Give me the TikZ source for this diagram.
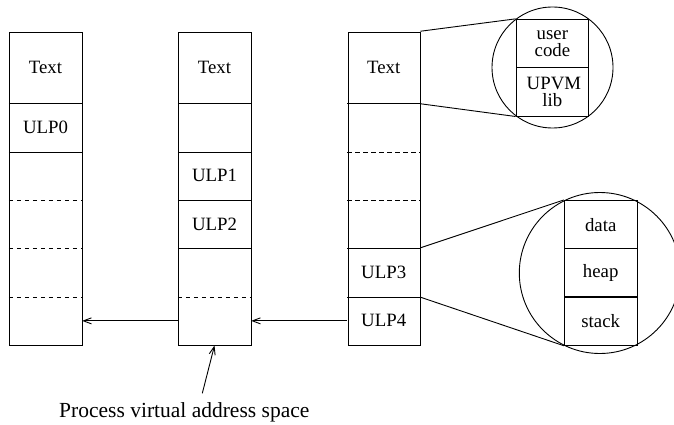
\documentclass[tikz,border=0pt]{standalone}
\usepackage{fontspec}
\setmainfont{Liberation Serif}
\usetikzlibrary{arrows.meta}
\begin{document}
\begin{tikzpicture}[x=1pt,y=-1pt,
  line width=0.9pt,
  colbox/.style={draw, rectangle, minimum width=72.4pt, minimum height=313.3pt, inner sep=0pt, anchor=north west},
  cell/.style={rectangle, minimum width=72.4pt, minimum height=48.4pt, inner sep=0pt, font=\fontsize{18.8}{17.3}\selectfont},
  zbox/.style={draw, rectangle, minimum width=72.7pt, minimum height=48.4pt, inner sep=0pt, align=center, font=\fontsize{18.8}{17.3}\selectfont},
  zoomc/.style={draw, circle, inner sep=0pt},
  sep/.style={},
  dsep/.style={dash pattern=on 4.5pt off 3.5pt},
  arr/.style={-{Straight Barb[length=8pt,width=6pt]}},
  captext/.style={font=\fontsize{21.5}{24}\selectfont, inner sep=0pt}]
\clip (0,0) rectangle (674,425);
\useasboundingbox (0,0) rectangle (674,425);

% columns
\node[colbox] (col1) at (9.3,31.7) {};
\node[colbox] (col2) at (178.3,31.7) {};
\node[colbox] (col3) at (347.5,31.7) {};

% column 1 cells
\node[cell, minimum height=71.6pt] (c1-a) at (45.5,67.5) {Text};
\node[cell] (c1-b) at (45.5,127.5) {ULP0};
\node[cell] (c1-c) at (45.5,175.85) {};
\node[cell] (c1-d) at (45.5,224.15) {};
\node[cell] (c1-e) at (45.5,272.5) {};
\node[cell] (c1-f) at (45.5,320.85) {};
% column 2 cells
\node[cell, minimum height=71.6pt] (c2-a) at (214.5,67.5) {Text};
\node[cell] (c2-b) at (214.5,127.5) {};
\node[cell] (c2-c) at (214.5,175.85) {ULP1};
\node[cell] (c2-d) at (214.5,224.15) {ULP2};
\node[cell] (c2-e) at (214.5,272.5) {};
\node[cell] (c2-f) at (214.5,320.85) {};
% column 3 cells
\node[cell, minimum height=71.6pt] (c3-a) at (383.7,67.5) {Text};
\node[cell] (c3-b) at (383.7,127.5) {};
\node[cell] (c3-c) at (383.7,175.85) {};
\node[cell] (c3-d) at (383.7,224.15) {};
\node[cell] (c3-e) at (383.7,272.5) {ULP3};
\node[cell] (c3-f) at (383.7,320.85) {ULP4};

% dividers column 1
\draw[sep] (c1-a.south west) -- (c1-a.south east);
\draw[sep] (c1-b.south west) -- (c1-b.south east);
\draw[dsep] (c1-c.south west) -- (c1-c.south east);
\draw[dsep] (c1-d.south west) -- (c1-d.south east);
\draw[dsep] (c1-e.south west) -- (c1-e.south east);
% dividers column 2
\draw[sep] (c2-a.south west) -- (c2-a.south east);
\draw[sep] (c2-b.south west) -- (c2-b.south east);
\draw[sep] (c2-c.south west) -- (c2-c.south east);
\draw[sep] (c2-d.south west) -- (c2-d.south east);
\draw[dsep] (c2-e.south west) -- (c2-e.south east);
% dividers column 3
\draw[sep] (c3-a.south west) -- (c3-a.south east);
\draw[dsep] (c3-b.south west) -- (c3-b.south east);
\draw[dsep] (c3-c.south west) -- (c3-c.south east);
\draw[sep] (c3-d.south west) -- (c3-d.south east);
\draw[sep] (c3-e.south west) -- (c3-e.south east);

% zoom of text segment
\node[zoomc, minimum size=121pt] (zt) at (552.5,67.5) {};
\node[zbox] (u1) at (552.4,43.5) {user\\code};
\node[zbox] (u2) at (552.4,91.85) {\hspace*{3pt}UPVM\\lib};

% zoom of ULP3
\node[zoomc, minimum size=161pt] (zu) at (599.8,273) {};
\node[zbox] (d1) at (600.7,224.6) {data};
\node[zbox] (d2) at (600.7,272.85) {heap};
\node[zbox] (d3) at (600.7,321.1) {stack};

% magnifier lines
\draw (c3-a.north east) -- (u1.north west);
\draw (c3-a.south east) -- (u2.south west);
\draw (c3-e.north east) -- (d1.north west);
\draw (c3-e.south east) -- (d3.south west);

% arrows between address spaces
\draw[arr] (c3-f.west) -- (c2-f.east);
\draw[arr] (c2-f.west) -- (c1-f.east);

% caption
\node[captext, anchor=base] (caption) at (184.3,417.6) {Process virtual address space};
\coordinate (ptail) at (202.3,393.3);
\draw[arr] (ptail) -- (c2-f.south);
\end{tikzpicture}
\end{document}
